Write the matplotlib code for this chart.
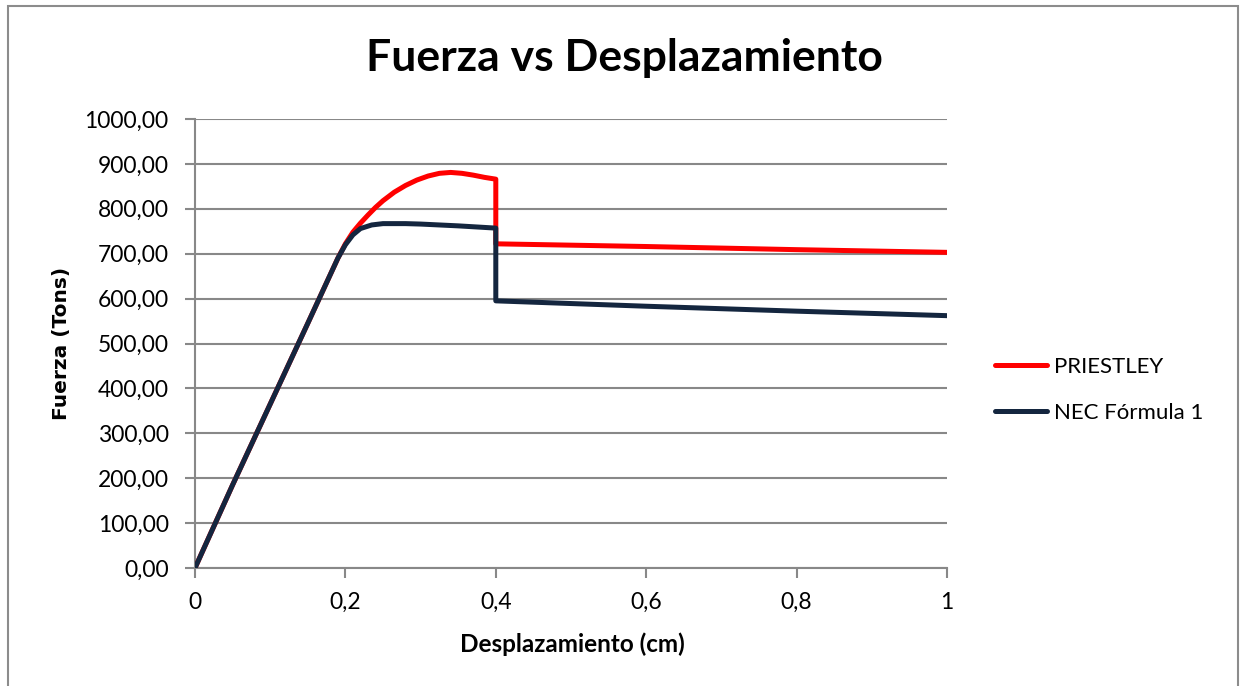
import matplotlib
matplotlib.use("Agg")
import matplotlib.pyplot as plt
from matplotlib.patches import Rectangle
from matplotlib.ticker import FuncFormatter, MultipleLocator

plt.rcParams['font.family'] = ['Lato', 'DejaVu Sans']

# Data
priestley_x = [0, 0.05, 0.1, 0.15, 0.19, 0.2, 0.21, 0.22, 0.23, 0.24, 0.25, 0.265, 0.28,
               0.295, 0.31, 0.325, 0.34, 0.355, 0.37, 0.385, 0.4, 0.4, 0.6, 0.8, 1.0]
priestley_y = [0, 185, 365, 545, 690, 722, 748, 768, 786, 803, 818, 837, 852,
               864, 873, 879, 881, 879, 875, 870, 866, 722, 716, 709, 703]

nec_x = [0, 0.05, 0.1, 0.15, 0.19, 0.2, 0.21, 0.22, 0.235, 0.25, 0.28, 0.3, 0.35,
         0.4, 0.4, 0.6, 0.8, 1.0]
nec_y = [0, 185, 365, 545, 690, 720, 742, 756, 764, 767, 767, 766, 762,
         757, 595, 583, 572, 562]

series_names = ["PRIESTLEY", "NEC Fórmula 1"]
title = "Fuerza vs Desplazamiento"
xlabel = "Desplazamiento (cm)"
ylabel = "Fuerza (Tons)"

W, H = 1244, 686
fig = plt.figure(figsize=(W / 100, H / 100), dpi=100)
ax = fig.add_axes([195 / W, 1 - 568 / H, (947 - 195) / W, (568 - 119) / H])

grid_c = "#888888"
ax.plot(priestley_x, priestley_y, color="#FF0000", lw=3.6, label=series_names[0],
        solid_joinstyle="round", solid_capstyle="round", zorder=3)
ax.plot(nec_x, nec_y, color="#14263F", lw=3.6, label=series_names[1],
        solid_joinstyle="round", solid_capstyle="round", zorder=4)

ax.set_xlim(0, 1)
ax.set_ylim(0, 1000)
ax.xaxis.set_major_locator(MultipleLocator(0.2))
ax.yaxis.set_major_locator(MultipleLocator(100))
ax.xaxis.set_major_formatter(FuncFormatter(lambda v, p: ("%g" % round(v, 1)).replace(".", ",")))
ax.yaxis.set_major_formatter(FuncFormatter(lambda v, p: ("%.2f" % v).replace(".", ",")))

ax.grid(axis="y", color=grid_c, lw=1.5)
ax.set_axisbelow(True)
for s in ["top", "right"]:
    ax.spines[s].set_visible(False)
for s in ["left", "bottom"]:
    ax.spines[s].set_color(grid_c)
    ax.spines[s].set_linewidth(1.5)
ax.tick_params(axis="both", direction="out", length=7, width=1.5, color=grid_c,
               labelsize=16.5, labelcolor="black")
ax.tick_params(axis="y", pad=12)
ax.tick_params(axis="x", pad=10)

fig.text(624 / W, 1 - 58 / H, title, ha="center", va="center", fontsize=32, fontweight="bold")
fig.text(572 / W, 1 - 644 / H, xlabel, ha="center", va="center", fontsize=17.5, fontweight="bold")
fig.text(62 / W, 1 - 343 / H, ylabel, ha="center", va="center", fontsize=14.5,
         fontweight="bold", rotation=90, family="DejaVu Sans")

leg = ax.legend(loc="center left", bbox_to_anchor=(975 / W, 1 - 390 / H),
                bbox_transform=fig.transFigure, frameon=False, fontsize=16,
                handlelength=2.34, handletextpad=0.3, labelspacing=1.15)

fig.patches.append(Rectangle((8 / W, -0.01), (1238 - 8) / W, 1 - 6 / H + 0.01,
                             transform=fig.transFigure, fill=False,
                             edgecolor="#8c8c8c", lw=1.5))

fig.savefig("out.png", dpi=100)
